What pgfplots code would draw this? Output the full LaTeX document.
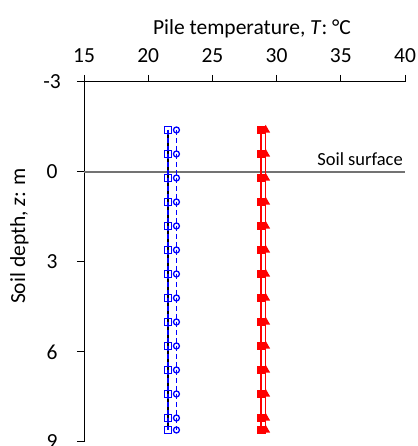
\documentclass[border=0pt]{standalone}
\usepackage{fontspec}
\setmainfont{Carlito}
\usepackage{pgfplots}
\usepackage{pgfplotstable}
\pgfplotsset{compat=1.18}
\pgfplotstableread{
T d
21.55 -1.4
21.55 -0.6
21.55 0.2
21.55 1.0
21.55 1.8
21.55 2.6
21.55 3.4
21.55 4.2
21.55 5.0
21.55 5.8
21.55 6.6
21.55 7.4
21.55 8.2
21.55 8.6
}\bluesq
\pgfplotstableread{
T d
22.2 -1.4
22.2 -0.6
22.2 0.2
22.2 1.0
22.2 1.8
22.2 2.6
22.2 3.4
22.2 4.2
22.2 5.0
22.2 5.8
22.2 6.6
22.2 7.4
22.2 8.2
22.2 8.6
}\bluecirc
\pgfplotstableread{
T d
28.8 -1.4
28.8 -0.6
28.8 0.2
28.8 1.0
28.8 1.8
28.8 2.6
28.8 3.4
28.8 4.2
28.8 5.0
28.8 5.8
28.8 6.6
28.8 7.4
28.8 8.2
28.8 8.6
}\redsq
\pgfplotstableread{
T d
29.15 -1.4
29.15 -0.6
29.15 0.2
29.15 1.0
29.15 1.8
29.15 2.6
29.15 3.4
29.15 4.2
29.15 5.0
29.15 5.8
29.15 6.6
29.15 7.4
29.15 8.2
29.15 8.6
}\redtri
\begin{document}
\begin{tikzpicture}[x=1pt,y=1pt]
\begin{axis}[
  at={(84pt,4pt)}, anchor=south west,
  scale only axis, width=321pt, height=360pt,
  xmin=15, xmax=40, ymin=-9, ymax=3,
  axis x line=top, axis y line=left,
  axis line style={-, black, line width=1pt},
  tick align=outside, major tick length=7pt,
  tick style={black, line width=1pt},
  xtick={15,20,25,30,35,40},
  ytick={-9,-6,-3,0,3},
  yticklabels={9,6,3,0,-3},
  /pgf/number format/assume math mode=true,
  tick label style={font=\fontsize{21.5}{24}\selectfont},
  xticklabel style={yshift=9pt},
  yticklabel style={anchor=center, xshift=-25pt},
  clip=false,
]
\addplot[gray!90!black, line width=1.3pt] coordinates {(15,0) (40,0)};
\addplot[black, line width=1.3pt] table[x=T, y expr=-\thisrow{d}] \bluesq;
\addplot[blue, dashed, dash pattern=on 5pt off 3pt, line width=1.5pt, mark=square, mark size=3.3pt, mark options={solid, line width=1.2pt, fill=white}] table[x=T, y expr=-\thisrow{d}] \bluesq;
\addplot[blue, dashed, dash pattern=on 5pt off 3pt, line width=1.5pt, mark=o, mark size=3pt, mark options={solid, line width=1.3pt}] table[x=T, y expr=-\thisrow{d}] \bluecirc;
\addplot[red, line width=1.5pt, mark=triangle*, mark size=3.6pt, mark options={solid}] table[x=T, y expr=-\thisrow{d}] \redtri;
\addplot[red, line width=1.5pt, mark=square*, mark size=3.6pt, mark options={solid}] table[x=T, y expr=-\thisrow{d}] \redsq;
\end{axis}
\node[anchor=base, font=\fontsize{21.5}{24}\selectfont] at (252,411) {Pile temperature, \textit{T}: °C};
\node[anchor=base, rotate=90, font=\fontsize{21.5}{24}\selectfont] at (25,210) {Soil depth, \textit{z}: m};
\node[anchor=base east, font=\fontsize{18.5}{20}\selectfont, inner sep=0pt] at (403,280) {Soil surface};
\pgfresetboundingbox
\path (0,0) rectangle (417,446);
\end{tikzpicture}
\end{document}
